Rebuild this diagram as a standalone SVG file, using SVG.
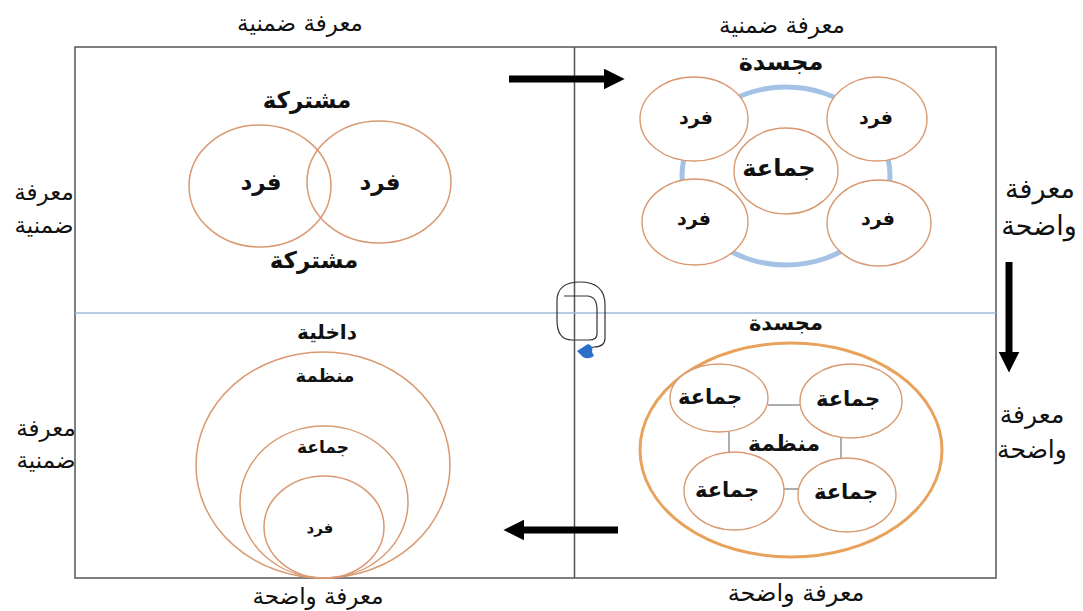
<svg xmlns="http://www.w3.org/2000/svg" width="1083" height="611" viewBox="0 0 1083 611">
<style>
text{font-family:"DejaVu Sans","Noto Sans",sans-serif;text-anchor:middle;fill:#111;font-weight:bold}
.ax{font-size:23px;font-weight:normal}
.c{fill:#fff;stroke:#d99a72;stroke-width:1.4}
.o{fill:none;stroke:#d99a72;stroke-width:1.5}
.frame{fill:none;stroke:#555;stroke-width:1.5}
.arrow{stroke:#000;stroke-width:7;fill:none}
.ln{stroke:#777;stroke-width:1.2}
</style>
<defs>
<marker id="ah" markerWidth="3" markerHeight="3" refX="1.2" refY="1.5" orient="auto" markerUnits="strokeWidth">
<path d="M0,0 L3,1.5 L0,3 z" fill="#000"/>
</marker>
</defs>
<rect width="1083" height="611" fill="#fff"/>
<g id="frame">
<rect class="frame" x="75" y="47" width="921" height="531"/>
<line x1="574.5" y1="47" x2="574.5" y2="578" stroke="#555" stroke-width="1.5"/>
<line x1="75" y1="313" x2="996" y2="313" stroke="#9dbbd9" stroke-width="1.5"/>
</g>
<g id="axis-labels">
<text class="ax" x="300" y="31">معرفة ضمنية</text>
<text class="ax" x="782" y="33">معرفة ضمنية</text>
<text class="ax" x="44" y="200">معرفة</text>
<text class="ax" x="44" y="233">ضمنية</text>
<text class="ax" x="46" y="436">معرفة</text>
<text class="ax" x="46" y="468">ضمنية</text>
<text class="ax" x="1040" y="198" style="font-size:27px">معرفة</text>
<text class="ax" x="1039" y="235" style="font-size:27px">واضحة</text>
<text class="ax" x="1032" y="423" style="font-size:25px">معرفة</text>
<text class="ax" x="1032" y="458" style="font-size:25px">واضحة</text>
<text class="ax" x="318" y="604">معرفة واضحة</text>
<text class="ax" x="796" y="601" style="font-size:24px">معرفة واضحة</text>
</g>
<g id="q-socialization">
<text x="307" y="108" style="font-size:23px">مشتركة</text>
<ellipse class="o" cx="260" cy="186" rx="71" ry="61"/>
<ellipse class="o" cx="379" cy="182" rx="72" ry="61"/>
<text x="261" y="190" style="font-size:23px">فرد</text>
<text x="380" y="190" style="font-size:23px">فرد</text>
<text x="314" y="268" style="font-size:23px">مشتركة</text>
</g>
<g id="q-externalization">
<text x="781" y="70" style="font-size:24px">مجسدة</text>
<ellipse cx="786" cy="176" rx="104" ry="89" fill="none" stroke="#a4c2e6" stroke-width="5"/>
<ellipse class="c" cx="694" cy="119" rx="54" ry="42"/>
<ellipse class="c" cx="877" cy="119" rx="50" ry="42"/>
<ellipse class="c" cx="695" cy="222" rx="53" ry="43"/>
<ellipse class="c" cx="879" cy="223" rx="52" ry="43"/>
<ellipse class="c" cx="786" cy="171" rx="52" ry="43"/>
<text x="696" y="124" style="font-size:19px">فرد</text>
<text x="876" y="124" style="font-size:19px">فرد</text>
<text x="694" y="225" style="font-size:19px">فرد</text>
<text x="878" y="225" style="font-size:19px">فرد</text>
<text x="779" y="176" style="font-size:24px">جماعة</text>
</g>
<g id="q-combination">
<text x="786" y="330" style="font-size:21px">مجسدة</text>
<ellipse cx="791" cy="450" rx="151" ry="107" fill="none" stroke="#e8a25c" stroke-width="3"/>
<line class="ln" x1="768" y1="405" x2="800" y2="405"/>
<line class="ln" x1="729" y1="432" x2="729" y2="452"/>
<line class="ln" x1="841" y1="438" x2="841" y2="458"/>
<line class="ln" x1="784" y1="489" x2="798" y2="489"/>
<ellipse class="c" cx="719" cy="398" rx="49" ry="34"/>
<ellipse class="c" cx="851" cy="401" rx="51" ry="37"/>
<ellipse class="c" cx="734" cy="491" rx="50" ry="39"/>
<ellipse class="c" cx="847" cy="495" rx="49" ry="37"/>
<text x="710" y="404" style="font-size:21px">جماعة</text>
<text x="848" y="406" style="font-size:21px">جماعة</text>
<text x="727" y="497" style="font-size:21px">جماعة</text>
<text x="846" y="499" style="font-size:21px">جماعة</text>
<text x="784" y="451" style="font-size:22px">منظمة</text>
</g>
<g id="q-internalization">
<text x="327" y="339" style="font-size:20px">داخلية</text>
<ellipse class="o" cx="323" cy="465" rx="127" ry="113"/>
<text x="325" y="382" style="font-size:18px">منظمة</text>
<ellipse class="o" cx="324" cy="502" rx="84" ry="76"/>
<text x="323" y="453" style="font-size:17px">جماعة</text>
<ellipse class="o" cx="324" cy="527" rx="60" ry="51"/>
<text x="320" y="533" style="font-size:15px">فرد</text>
</g>
<g id="connectors">
<line class="arrow" x1="509" y1="79" x2="612" y2="79" marker-end="url(#ah)"/>
<line class="arrow" x1="1009" y1="262" x2="1009" y2="360" marker-end="url(#ah)"/>
<line class="arrow" x1="618" y1="530" x2="516" y2="530" marker-end="url(#ah)"/>
<path d="M564 296 L588 296 Q597 297 597 310 L597 334 Q597 340 589 340 L572 340 Q557 340 557 320 L557 301 Q557 282 580 282 Q605 282 605 305 L605 338 Q605 347 594 347 L590 348" fill="none" stroke="#333" stroke-width="1.2"/>
<path d="M577 351 L588 344 Q594 346 592 352 L594 356 Q588 360 583 357 Z" fill="#2a6fc9"/>
</g>
</svg>
